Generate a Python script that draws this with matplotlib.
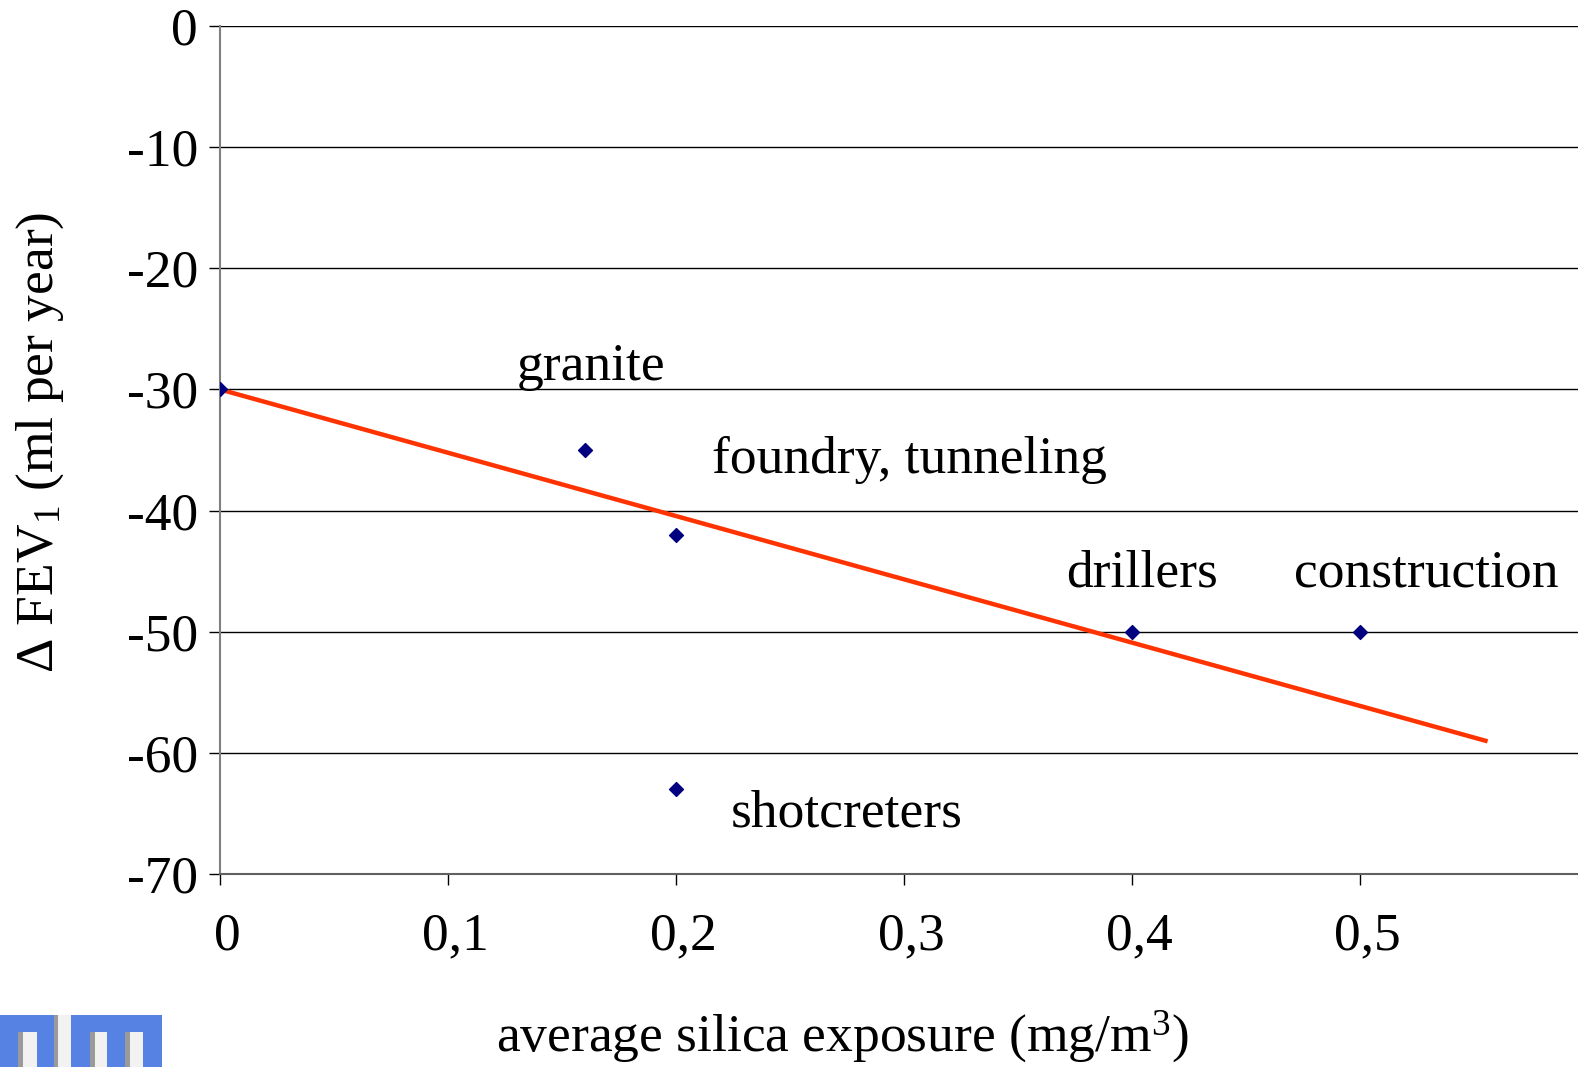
import matplotlib
matplotlib.use("Agg")
import matplotlib.pyplot as plt
import matplotlib.transforms as mtransforms
from matplotlib.patches import Rectangle

plt.rcParams['font.family'] = ['Liberation Serif', 'DejaVu Serif']
plt.rcParams['axes.unicode_minus'] = False
plt.rcParams['mathtext.fontset'] = 'custom'
plt.rcParams['mathtext.rm'] = 'Liberation Serif'
plt.rcParams['mathtext.it'] = 'Liberation Serif:italic'
plt.rcParams['mathtext.bf'] = 'Liberation Serif:bold'

# average silica exposure (mg/m3) vs decline in FEV1 (ml per year)
exposure = [0.0, 0.16, 0.2, 0.2, 0.4, 0.5]
fev_change = [-30, -35, -42, -63, -50, -50]

# trend line end points
trend_x = [0.0, 0.555]
trend_y = [-30.0, -59.0]

# group names and where they are written
groups = ["granite", "foundry, tunneling", "drillers", "construction", "shotcreters"]
group_x = [0.130, 0.216, 0.371, 0.471, 0.224]
group_y = [-29.2, -36.9, -46.3, -46.3, -66.1]

y_ticks = [0, -10, -20, -30, -40, -50, -60, -70]
x_ticks = [0, 0.1, 0.2, 0.3, 0.4, 0.5]
x_tick_labels = ["0", "0,1", "0,2", "0,3", "0,4", "0,5"]

FS = 38.5

fig = plt.figure(figsize=(15.78, 10.67), dpi=100)
ax = fig.add_axes([0.1394, 0.1809, 0.8606, 0.7947])

ax.set_xlim(0, 0.5956)
ax.set_ylim(-70, 0)

for yv in y_ticks:
    ax.axhline(yv, color="black", linewidth=1.0, zorder=1)

ax.plot(trend_x, trend_y, color="#ff3300", linewidth=3.2, zorder=3)
ax.scatter(exposure, fev_change, marker="D", s=50, color="#000080", zorder=4)

for name, gx, gy in zip(groups, group_x, group_y):
    ax.text(gx, gy, name, fontsize=FS, ha="left", va="baseline")

for side in ["top", "right"]:
    ax.spines[side].set_visible(False)
ax.spines["left"].set_color("#808080")
ax.spines["bottom"].set_color("#606060")
ax.spines["left"].set_linewidth(1.5)
ax.spines["bottom"].set_linewidth(1.5)

ax.set_yticks(y_ticks)
ax.set_yticklabels([str(v) for v in y_ticks])
ax.set_xticks(x_ticks)
ax.set_xticklabels(x_tick_labels)
ax.tick_params(axis="y", length=8, width=1, color="black", labelsize=FS, pad=8)
ax.tick_params(axis="x", length=8, width=1, color="black", labelsize=FS, pad=20)

# x tick labels sit a little right of their ticks
shift = mtransforms.ScaledTranslation(7 / 100, 0, fig.dpi_scale_trans)
for lab in ax.get_xticklabels():
    lab.set_transform(lab.get_transform() + shift)

fig.text(0.0253, 0.585, "Δ FEV$_1$ (ml per year)", rotation=90, fontsize=FS,
         ha="center", va="center")
fig.text(0.534, 0.029, "average silica exposure (mg/m$^3$)", fontsize=FS,
         ha="center", va="center")

# institute logo in the lower left corner
H = 1067.0
W = 1578.0
logo = [
    (0, 1015, 162, 52, "#5682e3"),
    (18, 1032, 19, 35, "#f2f2f2"),
    (54, 1015, 17, 52, "#f2f2f2"),
    (90, 1032, 17, 35, "#f2f2f2"),
    (125, 1032, 18, 35, "#f2f2f2"),
]
for lx, ly, lw, lh, lc in logo:
    fig.patches.append(Rectangle((lx / W, 1 - (ly + lh) / H), lw / W, lh / H,
                                 transform=fig.transFigure, facecolor=lc,
                                 edgecolor="none"))
for lx, ly, lw, lh in [(18, 1032, 5, 35), (54, 1015, 4, 52), (90, 1032, 5, 35), (125, 1032, 5, 35)]:
    fig.patches.append(Rectangle((lx / W, 1 - (ly + lh) / H), lw / W, lh / H,
                                 transform=fig.transFigure, facecolor="#9a9a9a",
                                 edgecolor="none"))

fig.savefig("out.png", dpi=100)
